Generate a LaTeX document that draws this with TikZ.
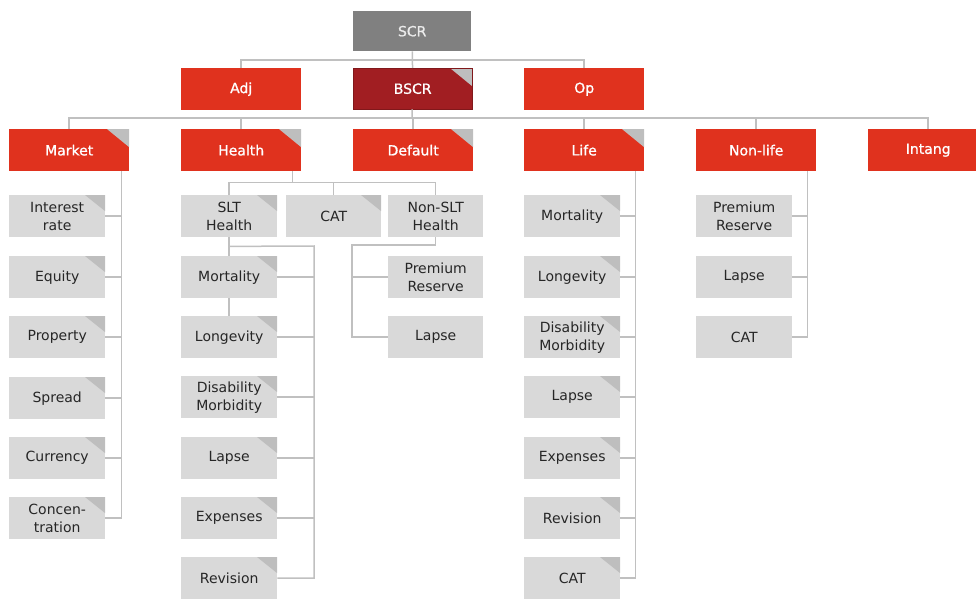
\documentclass[tikz,border=0pt]{standalone}
\usepackage{fontspec}
\setmainfont{DejaVu Sans}[BoldFont=DejaVu Sans,BoldFeatures={FakeBold=1}]
\usetikzlibrary{calc}
\definecolor{boxred}{RGB}{224,50,30}
\definecolor{darkred}{RGB}{161,30,34}
\definecolor{scrgray}{RGB}{128,128,128}
\definecolor{subgray}{RGB}{217,217,217}
\definecolor{foldgray}{RGB}{190,190,190}
\definecolor{linegray}{RGB}{192,192,192}
\definecolor{subtext}{RGB}{38,38,38}

\begin{document}
\begin{tikzpicture}[x=1pt,y=-1pt,
  box/.style={anchor=north west,inner sep=0pt,align=center,font=\fontsize{14}{18}\selectfont},
  main/.style={box,fill=boxred,text=white,minimum width=120pt,minimum height=42pt,font=\fontsize{14}{18}\selectfont\bfseries},
  sub/.style={box,fill=subgray,text=subtext,minimum width=96pt,minimum height=42pt},
  link/.style={draw=linegray,line width=1.5pt},
  bigfold/.style={path picture={\fill[foldgray]([xshift=-22pt]path picture bounding box.north east)--(path picture bounding box.north east)--([yshift=-18pt]path picture bounding box.north east)--cycle;}},
  fold/.style={path picture={\fill[foldgray]([xshift=-20pt]path picture bounding box.north east)--(path picture bounding box.north east)--([yshift=-16pt]path picture bounding box.north east)--cycle;}}]
\useasboundingbox(0,0)rectangle(976,599);
\clip(0,0)rectangle(976,599);
\node[main,fill=scrgray,text=white!92!black,minimum width=118pt,minimum height=40pt](scr)at(353,11){SCR};
\node[main](adj)at(181,68){Adj};
\node[main,bigfold,fill=darkred,draw=darkred!80!black,minimum width=119pt,minimum height=41pt](bscr)at(353,68){BSCR};
\node[main](op)at(524,68){Op};
\node[main,bigfold](market)at(9,129){Market};
\node[main,bigfold](health)at(181,129){Health};
\node[main,bigfold](default)at(353,129){Default};
\node[main,bigfold](life)at(524,129){Life};
\node[main](nonlife)at(696,129){Non-life};
\node[main](intang)at(868,129){Intang};
\foreach \t/\y[count=\i]in{{Interest\\rate}/195,Equity/256,Property/316,Spread/377,Currency/437,{Concen-\\tration}/497}
  \node[sub,fold](m\i)at(9,\y){\t};
\node[sub,fold](slt)at(181,195){SLT\\Health};
\node[sub,fold,minimum width=95pt](cat)at(286,195){CAT};
\node[sub,minimum width=95pt](nonslt)at(388,195){Non-SLT\\Health};
\foreach \t/\y[count=\i]in{Mortality/256,Longevity/316,{Disability\\Morbidity}/376,Lapse/437,Expenses/497,Revision/557}
  \node[sub,fold](hs\i)at(181,\y){\t};
\node[sub,minimum width=95pt](np1)at(388,256){Premium\\Reserve};
\node[sub,minimum width=95pt](np2)at(388,316){Lapse};
\foreach \t/\y[count=\i]in{Mortality/195,Longevity/256,{Disability\\Morbidity}/316,Lapse/376,Expenses/437,Revision/497,CAT/557}
  \node[sub,fold](l\i)at(524,\y){\t};
\foreach \t/\y[count=\i]in{{Premium\\Reserve}/195,Lapse/256,CAT/316}
  \node[sub](n\i)at(696,\y){\t};
\coordinate(tbus)at(412,60);
\coordinate(rbus)at(412,118);
\draw[link](scr)--(bscr);
\draw[link](adj.north)|-(tbus)-|(op.north);
\draw[link](bscr)--(rbus);
\draw[link](market.north)|-(rbus)-|(intang.north);
\foreach \n in{health,default,life,nonlife}\draw[link](\n.north)--(\n.north|-rbus);
\coordinate(mx)at([xshift=-8pt]market.south east);
\draw[link](mx)|-(m6.east);
\foreach \i in{1,...,5}\draw[link](m\i.east)--(m\i.east-|mx);
\coordinate(hx)at([xshift=-9pt]health.south east);
\coordinate(hbus)at($(hx)+(0,11)$);
\draw[link](hx)--(hbus);
\draw[link](slt.north)|-(hbus)-|(nonslt.north);
\draw[link](cat.north)--(cat.north|-hbus);
\coordinate(sbus)at($(slt.south)+(0,9)$);
\coordinate(sx)at(314,246);
\draw[link](slt)--(hs1);
\draw[link](hs1)--(hs2);
\draw[link](sbus)--(sx)|-(hs6.east);
\foreach \i in{1,...,5}\draw[link](hs\i.east)--(hs\i.east-|sx);
\coordinate(nx)at(352,245);
\draw[link](nonslt.south)|-(nx)|-(np2.west);
\draw[link](np1.west)--(np1.west-|nx);
\coordinate(lx)at([xshift=-9pt]life.south east);
\draw[link](lx)|-(l7.east);
\foreach \i in{1,...,6}\draw[link](l\i.east)--(l\i.east-|lx);
\coordinate(nlx)at([xshift=-9pt]nonlife.south east);
\draw[link](nlx)|-(n3.east);
\foreach \i in{1,2}\draw[link](n\i.east)--(n\i.east-|nlx);
\end{tikzpicture}
\end{document}
